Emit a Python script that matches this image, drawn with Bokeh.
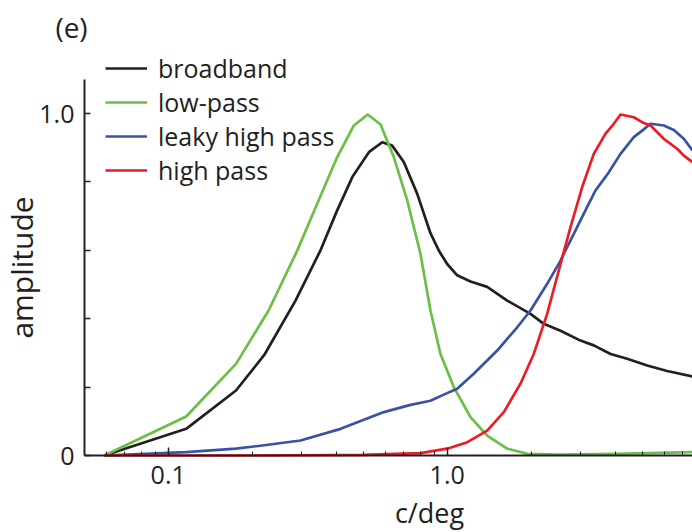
import numpy as np
from bokeh.plotting import figure
from bokeh.models import (Range1d, FixedTicker, Legend, LegendItem, Label,
                          CustomJSTickFormatter)
from bokeh.embed import file_html
from bokeh.resources import INLINE

# ---- data ----
broadband_x = [0.059, 0.116, 0.175, 0.221, 0.286, 0.351, 0.403, 0.457, 0.524, 0.585,
               0.635, 0.699, 0.781, 0.871, 0.935, 1.0, 1.086, 1.212, 1.391, 1.641,
               1.989, 2.219, 2.548, 3.004, 3.353, 3.85, 4.416, 5.21, 6.145, 7.57]
broadband_y = [0.0, 0.078, 0.190, 0.294, 0.453, 0.599, 0.716, 0.814, 0.887, 0.916,
               0.906, 0.858, 0.765, 0.650, 0.598, 0.560, 0.527, 0.509, 0.493, 0.453,
               0.414, 0.385, 0.365, 0.336, 0.322, 0.297, 0.283, 0.263, 0.247, 0.231]

lowpass_x = [0.059, 0.116, 0.175, 0.229, 0.290, 0.342, 0.403, 0.463, 0.519, 0.577,
             0.644, 0.719, 0.802, 0.871, 0.946, 1.056, 1.212, 1.391, 1.641, 1.935,
             2.548, 4.0, 7.57]
lowpass_y = [0.0, 0.114, 0.268, 0.424, 0.599, 0.736, 0.872, 0.965, 0.997, 0.968,
             0.872, 0.746, 0.590, 0.424, 0.297, 0.200, 0.112, 0.058, 0.020, 0.005,
             0.003, 0.005, 0.010]

leaky_x = [0.059, 0.116, 0.175, 0.221, 0.298, 0.415, 0.593, 0.739, 0.871, 0.972,
           1.086, 1.245, 1.511, 1.782, 1.989, 2.282, 2.548, 2.618, 2.843, 3.088,
           3.401, 3.796, 4.18, 4.665, 5.0, 5.354, 5.974, 6.49, 7.047, 7.57]
leaky_y = [0.0, 0.010, 0.020, 0.030, 0.044, 0.078, 0.127, 0.148, 0.160, 0.178,
           0.195, 0.239, 0.307, 0.375, 0.424, 0.502, 0.570, 0.590, 0.648, 0.707,
           0.775, 0.828, 0.882, 0.931, 0.950, 0.970, 0.965, 0.952, 0.926, 0.892]

highpass_x = [0.059, 0.2, 0.5, 0.802, 1.0, 1.18, 1.391, 1.596, 1.831, 2.043,
              2.282, 2.548, 2.767, 3.047, 3.353, 3.694, 3.955, 4.18, 4.665, 5.067,
              5.354, 5.974, 6.671, 7.047, 7.57]
highpass_y = [0.0, 0.0, 0.002, 0.007, 0.020, 0.039, 0.073, 0.127, 0.210, 0.297,
              0.414, 0.560, 0.668, 0.785, 0.882, 0.941, 0.970, 0.997, 0.989, 0.972,
              0.965, 0.926, 0.897, 0.877, 0.858]

series_labels = ["broadband", "low-pass", "leaky high pass", "high pass"]
series_colors = ["#231f20", "#6abf45", "#3953a4", "#ed1c24"]

x_major_ticks = [0.1, 1.0]
x_minor_ticks = [0.06, 0.07, 0.08, 0.09, 0.2, 0.3, 0.4, 0.5, 0.6, 0.7, 0.8, 0.9,
                 2, 3, 4, 5, 6, 7]
y_ticks = [0, 0.2, 0.4, 0.6, 0.8, 1.0]
x_axis_extent = (0.0501, 7.572)
y_axis_extent = (0.0, 1.1)

TXT = "#231f20"
FONT = "Open Sans"

# the frame covers the whole canvas; the axes are pinned inside it
p = figure(width=692, height=532, x_axis_type="log",
           x_range=Range1d(0.02506, 7.572), y_range=Range1d(-0.2251, 1.3304),
           output_backend="svg", toolbar_location=None, min_border=0)
p.outline_line_color = None
p.xgrid.visible = False
p.ygrid.visible = False

renderers = []
for xs, ys, c in zip([broadband_x, lowpass_x, leaky_x, highpass_x],
                     [broadband_y, lowpass_y, leaky_y, highpass_y], series_colors):
    r = p.line(xs, ys, line_color=c, line_width=2.7, line_join="round")
    renderers.append(r)

# axes
for ax in (p.xaxis[0], p.yaxis[0]):
    ax.axis_line_width = 2
    ax.axis_line_color = TXT
    ax.major_tick_line_color = TXT
    ax.major_tick_line_width = 1.5
    ax.major_tick_out = 0
    ax.minor_tick_out = 0
    ax.major_label_text_font = FONT
    ax.major_label_text_font_size = "25px"
    ax.major_label_text_color = TXT

xa = p.xaxis[0]
xa.fixed_location = y_axis_extent[0]
xa.bounds = x_axis_extent
xa.ticker = FixedTicker(ticks=x_major_ticks, minor_ticks=x_minor_ticks)
xa.formatter = CustomJSTickFormatter(code="return tick < 0.5 ? '0.1' : '1.0';")
xa.major_tick_in = 8
xa.minor_tick_in = 4
xa.minor_tick_line_color = TXT
xa.minor_tick_line_width = 1
xa.major_label_standoff = 10

ya = p.yaxis[0]
ya.fixed_location = x_axis_extent[0]
ya.bounds = y_axis_extent
ya.ticker = FixedTicker(ticks=y_ticks)
ya.formatter = CustomJSTickFormatter(code="""
if (Math.abs(tick) < 1e-9) return '0';
if (Math.abs(tick - 1) < 1e-9) return '1.0';
return '';
""")
ya.major_tick_in = 6
ya.minor_tick_line_color = None
ya.major_label_standoff = 10

# legend
items = [LegendItem(label=l, renderers=[r]) for l, r in zip(series_labels, renderers)]
legend = Legend(items=items, location=(105, 345), padding=0, margin=0, spacing=0,
                label_height=34, glyph_height=34, glyph_width=42, label_standoff=11,
                label_text_font=FONT, label_text_font_size="25px",
                label_text_color=TXT, border_line_alpha=0, background_fill_alpha=0)
p.add_layout(legend, "center")

# texts
p.add_layout(Label(x=71, y=506, x_units="screen", y_units="screen", text="(e)",
                   text_align="center", text_baseline="middle",
                   text_font=FONT, text_font_size="28px", text_color=TXT))
p.add_layout(Label(x=429, y=20, x_units="screen", y_units="screen", text="c/deg",
                   text_align="center", text_baseline="middle",
                   text_font=FONT, text_font_size="27px", text_color=TXT))
p.add_layout(Label(x=21, y=265, x_units="screen", y_units="screen", text="amplitude",
                   angle=np.pi / 2, text_align="center", text_baseline="middle",
                   text_font=FONT, text_font_size="30px", text_color=TXT))

open("out.html", "w").write(file_html(p, INLINE))
